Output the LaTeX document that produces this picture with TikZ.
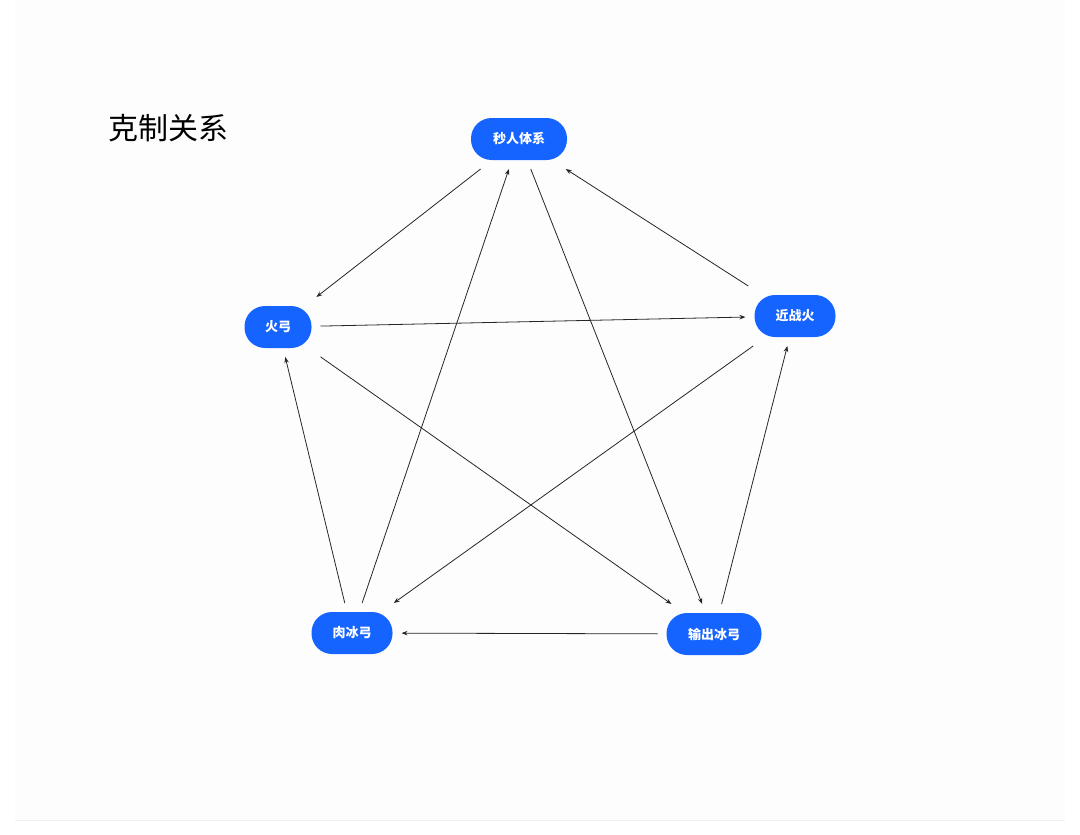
\documentclass[tikz,border=0pt]{standalone}
\usepackage{fontspec}
\newfontfamily\cjk{Noto Sans CJK SC}
\usetikzlibrary{arrows.meta}
\definecolor{nb}{HTML}{1664FF}
\begin{document}
\begin{tikzpicture}[x=1pt,y=-1pt,
  nd/.style={fill=nb,rounded corners=20.5pt,minimum height=42pt,text=white,font=\cjk\fontsize{13}{13}\selectfont\bfseries,inner sep=0pt,outer sep=9pt},
  ar/.style={-{Stealth[length=6pt,width=4.5pt]},line width=0.8pt,black!85}]
\useasboundingbox (0,0) rectangle (1080,835);
\fill[white] (0,0) rectangle (1080,835);
\fill[black!0.8] (15,0) rectangle (1065,820);
\draw[black!6] (15,820) -- (1065,820);
\node[anchor=west,font=\cjk\fontsize{30}{30}\selectfont,inner sep=0pt] (t) at (108,128) {克制关系};
\node[nd,minimum width=96pt] (a) at (519,139) {秒人体系};
\node[nd,minimum width=67pt] (b) at (278,327) {火弓};
\node[nd,minimum width=81pt] (c) at (795,316) {近战火};
\node[nd,minimum width=81pt] (d) at (352,633) {肉冰弓};
\node[nd,minimum width=95pt] (e) at (714,634) {输出冰弓};
\draw[ar] (a) -- (b);
\draw[ar] (c) -- (a);
\draw[ar] (b) -- (c);
\draw[ar] (c) -- (d);
\draw[ar] (b) -- (e);
\draw[ar] (a) -- (e);
\draw[ar] (d) -- (a);
\draw[ar] (d) -- (b);
\draw[ar] (e) -- (d);
\draw[ar] (e) -- (c);
\end{tikzpicture}
\end{document}
